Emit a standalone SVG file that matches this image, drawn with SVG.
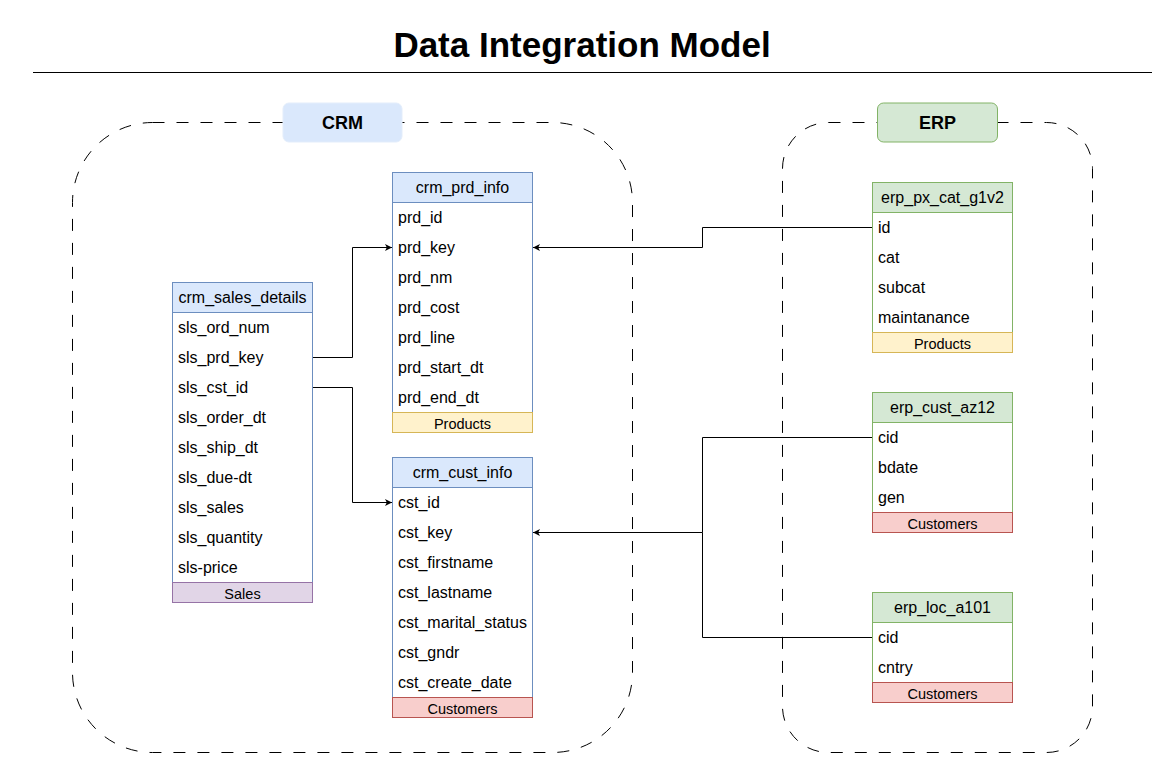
<svg xmlns="http://www.w3.org/2000/svg" width="1166" height="765" viewBox="0 0 1166 765">
  <defs>
    <marker id="arr" markerWidth="8" markerHeight="8" refX="7" refY="4" orient="auto" markerUnits="userSpaceOnUse">
      <path d="M0,0.5 L7,4 L0,7.5 L1.8,4 Z" fill="#000"/>
    </marker>
  </defs>
  <style>
    text { font-family: "Liberation Sans", Arial, Helvetica, sans-serif; fill: #000; }
    .title { font-size: 35px; font-weight: bold; text-anchor: middle; }
    .grp { fill: none; stroke: #000; stroke-width: 1; stroke-dasharray: 12 12; }
    .lbl { font-size: 18px; font-weight: bold; text-anchor: middle; }
    .hd { font-size: 16px; text-anchor: middle; }
    .row { font-size: 16px; }
    .ft { font-size: 14.5px; text-anchor: middle; }
    .tb-b { fill: #fff; stroke: #6c8ebf; }
    .hd-b { fill: #dae8fc; stroke: #6c8ebf; }
    .tb-g { fill: #fff; stroke: #82b366; }
    .hd-g { fill: #d5e8d4; stroke: #82b366; }
    .ft-y { fill: #fff2cc; stroke: #d6b656; }
    .ft-r { fill: #f8cecc; stroke: #b85450; }
    .ft-p { fill: #e1d5e7; stroke: #9673a6; }
    .conn { fill: none; stroke: #000; stroke-width: 1; }
  </style>

  <rect width="1166" height="765" fill="#fff"/>

  <g id="title">
    <text class="title" x="582" y="57">Data Integration Model</text>
    <line x1="33" y1="72.5" x2="1152" y2="72.5" stroke="#000" stroke-width="1"/>
  </g>

  <g id="crm-group">
    <rect class="grp" x="72.5" y="122.5" width="560" height="630" rx="80" ry="80"/>
    <rect x="283" y="103" width="119" height="39" rx="6" ry="6" fill="#dae8fc" stroke="#e3edfb"/>
    <text class="lbl" x="342.5" y="128.5">CRM</text>
  </g>

  <g id="erp-group">
    <rect class="grp" x="782.5" y="122.5" width="310" height="630" rx="46" ry="46"/>
    <rect x="877.5" y="103" width="120" height="39" rx="6" ry="6" fill="#d5e8d4" stroke="#82b366"/>
    <text class="lbl" x="937.5" y="128.5">ERP</text>
  </g>

  <g id="connectors">
    <path class="conn" d="M312.5,357.5 H352.5 V247.5 H392" marker-end="url(#arr)"/>
    <path class="conn" d="M312.5,387.5 H352.5 V502.5 H392" marker-end="url(#arr)"/>
    <path class="conn" d="M872.5,227.5 H702.5 V247.5 H533" marker-end="url(#arr)"/>
    <path class="conn" d="M872.5,437.5 H702.5 V532.5 H533" marker-end="url(#arr)"/>
    <path class="conn" d="M872.5,637.5 H702.5 V532.5"/>
  </g>

  <g id="crm_sales_details">
    <rect class="tb-b" x="172.5" y="282.5" width="140" height="300"/>
    <rect class="hd-b" x="172.5" y="282.5" width="140" height="30"/>
    <text class="hd" x="242.5" y="303">crm_sales_details</text>
    <text class="row" x="178" y="333">sls_ord_num</text>
    <text class="row" x="178" y="363">sls_prd_key</text>
    <text class="row" x="178" y="393">sls_cst_id</text>
    <text class="row" x="178" y="423">sls_order_dt</text>
    <text class="row" x="178" y="453">sls_ship_dt</text>
    <text class="row" x="178" y="483">sls_due-dt</text>
    <text class="row" x="178" y="513">sls_sales</text>
    <text class="row" x="178" y="543">sls_quantity</text>
    <text class="row" x="178" y="573">sls-price</text>
    <rect class="ft-p" x="172.5" y="582.5" width="140" height="20"/>
    <text class="ft" x="242.5" y="599">Sales</text>
  </g>

  <g id="crm_prd_info">
    <rect class="tb-b" x="392.5" y="172.5" width="140" height="240"/>
    <rect class="hd-b" x="392.5" y="172.5" width="140" height="30"/>
    <text class="hd" x="462.5" y="193">crm_prd_info</text>
    <text class="row" x="398" y="223">prd_id</text>
    <text class="row" x="398" y="253">prd_key</text>
    <text class="row" x="398" y="283">prd_nm</text>
    <text class="row" x="398" y="313">prd_cost</text>
    <text class="row" x="398" y="343">prd_line</text>
    <text class="row" x="398" y="373">prd_start_dt</text>
    <text class="row" x="398" y="403">prd_end_dt</text>
    <rect class="ft-y" x="392.5" y="412.5" width="140" height="20"/>
    <text class="ft" x="462.5" y="429">Products</text>
  </g>

  <g id="crm_cust_info">
    <rect class="tb-b" x="392.5" y="457.5" width="140" height="240"/>
    <rect class="hd-b" x="392.5" y="457.5" width="140" height="30"/>
    <text class="hd" x="462.5" y="478">crm_cust_info</text>
    <text class="row" x="398" y="508">cst_id</text>
    <text class="row" x="398" y="538">cst_key</text>
    <text class="row" x="398" y="568">cst_firstname</text>
    <text class="row" x="398" y="598">cst_lastname</text>
    <text class="row" x="398" y="628">cst_marital_status</text>
    <text class="row" x="398" y="658">cst_gndr</text>
    <text class="row" x="398" y="688">cst_create_date</text>
    <rect class="ft-r" x="392.5" y="697.5" width="140" height="20"/>
    <text class="ft" x="462.5" y="714">Customers</text>
  </g>

  <g id="erp_px_cat_g1v2">
    <rect class="tb-g" x="872.5" y="182.5" width="140" height="150"/>
    <rect class="hd-g" x="872.5" y="182.5" width="140" height="30"/>
    <text class="hd" x="942.5" y="203">erp_px_cat_g1v2</text>
    <text class="row" x="878" y="233">id</text>
    <text class="row" x="878" y="263">cat</text>
    <text class="row" x="878" y="293">subcat</text>
    <text class="row" x="878" y="323">maintanance</text>
    <rect class="ft-y" x="872.5" y="332.5" width="140" height="20"/>
    <text class="ft" x="942.5" y="349">Products</text>
  </g>

  <g id="erp_cust_az12">
    <rect class="tb-g" x="872.5" y="392.5" width="140" height="120"/>
    <rect class="hd-g" x="872.5" y="392.5" width="140" height="30"/>
    <text class="hd" x="942.5" y="413">erp_cust_az12</text>
    <text class="row" x="878" y="443">cid</text>
    <text class="row" x="878" y="473">bdate</text>
    <text class="row" x="878" y="503">gen</text>
    <rect class="ft-r" x="872.5" y="512.5" width="140" height="20"/>
    <text class="ft" x="942.5" y="529">Customers</text>
  </g>

  <g id="erp_loc_a101">
    <rect class="tb-g" x="872.5" y="592.5" width="140" height="90"/>
    <rect class="hd-g" x="872.5" y="592.5" width="140" height="30"/>
    <text class="hd" x="942.5" y="613">erp_loc_a101</text>
    <text class="row" x="878" y="643">cid</text>
    <text class="row" x="878" y="673">cntry</text>
    <rect class="ft-r" x="872.5" y="682.5" width="140" height="20"/>
    <text class="ft" x="942.5" y="699">Customers</text>
  </g>
</svg>
